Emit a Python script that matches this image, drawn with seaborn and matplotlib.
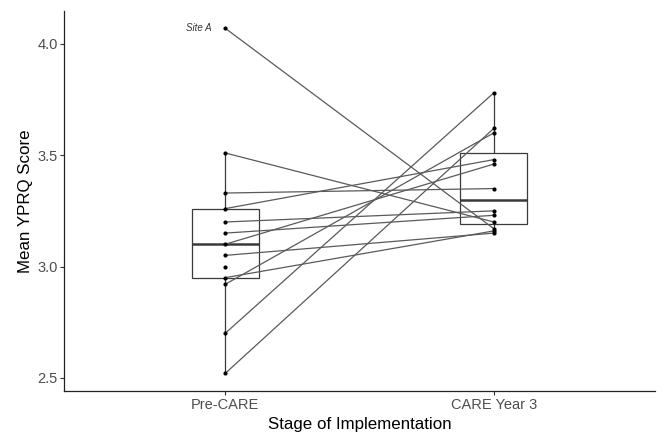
import numpy as np
import pandas as pd
import matplotlib
matplotlib.use("Agg")
import matplotlib.pyplot as plt
import seaborn as sns

# Mean YPRQ score per site, before CARE and in CARE year 3
sites = ["Site A", "Site B", "Site C", "Site D", "Site E", "Site F", "Site G",
         "Site H", "Site I", "Site J", "Site K", "Site L", "Site M"]
pre_care = [4.07, 3.51, 3.33, 3.26, 3.20, 3.15, 3.10, 3.05, 3.00, 2.95, 2.92, 2.70, 2.52]
care_year3 = [3.17, 3.20, 3.35, 3.48, 3.25, 3.23, 3.46, 3.15, np.nan, 3.16, 3.60, 3.78, 3.62]
stages = ["Pre-CARE", "CARE Year 3"]
labelled_site = "Site A"

sns.set_theme(style="ticks")
plt.rcParams["font.family"] = ["Liberation Sans", "DejaVu Sans"]

df = pd.DataFrame({
    "site": sites * 2,
    "stage": [stages[0]] * len(sites) + [stages[1]] * len(sites),
    "score": pre_care + care_year3,
})
df["pos"] = df["stage"].map({s: i for i, s in enumerate(stages)})
df = df.dropna(subset=["score"])

fig = plt.figure(figsize=(6.64, 4.33), dpi=100)
ax = fig.add_axes([0.0964, 0.0977, 0.89, 0.877])

sns.boxplot(data=df, x="stage", y="score", order=stages, width=0.25,
            showfliers=False, showcaps=False, color="white", linecolor="#3a3a3a",
            linewidth=0.9, medianprops=dict(linewidth=1.8, color="#3a3a3a"),
            ax=ax)

paired = df[df.groupby("site")["score"].transform("count") == 2]
sns.lineplot(data=paired, x="pos", y="score", units="site", estimator=None,
             sort=False, color="#5a5a5a", linewidth=0.9, ax=ax, zorder=3)
sns.scatterplot(data=df, x="pos", y="score", color="black", s=9,
                linewidth=0, ax=ax, zorder=4)

lab = df[(df["site"] == labelled_site) & (df["pos"] == 0)].iloc[0]
ax.text(lab["pos"] - 0.05, lab["score"], labelled_site, ha="right",
        va="center", fontsize=7, style="italic", color="#333333")

ax.set_xlim(-0.6, 1.6)
ax.set_ylim(2.4425, 4.1475)
ax.set_xticks([0, 1])
ax.set_xticklabels(stages)
ax.set_yticks([2.5, 3.0, 3.5, 4.0])
ax.set_yticklabels(["2.5", "3.0", "3.5", "4.0"])
ax.set_xlabel("Stage of Implementation", fontsize=12.2, color="black", labelpad=3.5)
ax.set_ylabel("Mean YPRQ Score", fontsize=12.2, color="black", labelpad=3)
ax.tick_params(axis="both", labelsize=10.5, colors="#333333", labelcolor="#4d4d4d",
               length=3, width=0.8)
ax.tick_params(axis="x", pad=2.5)
ax.tick_params(axis="y", pad=1.5)
for side in ["left", "bottom"]:
    ax.spines[side].set_linewidth(0.9)
    ax.spines[side].set_color("#222222")
sns.despine(ax=ax)

fig.savefig("out.png", dpi=100)
